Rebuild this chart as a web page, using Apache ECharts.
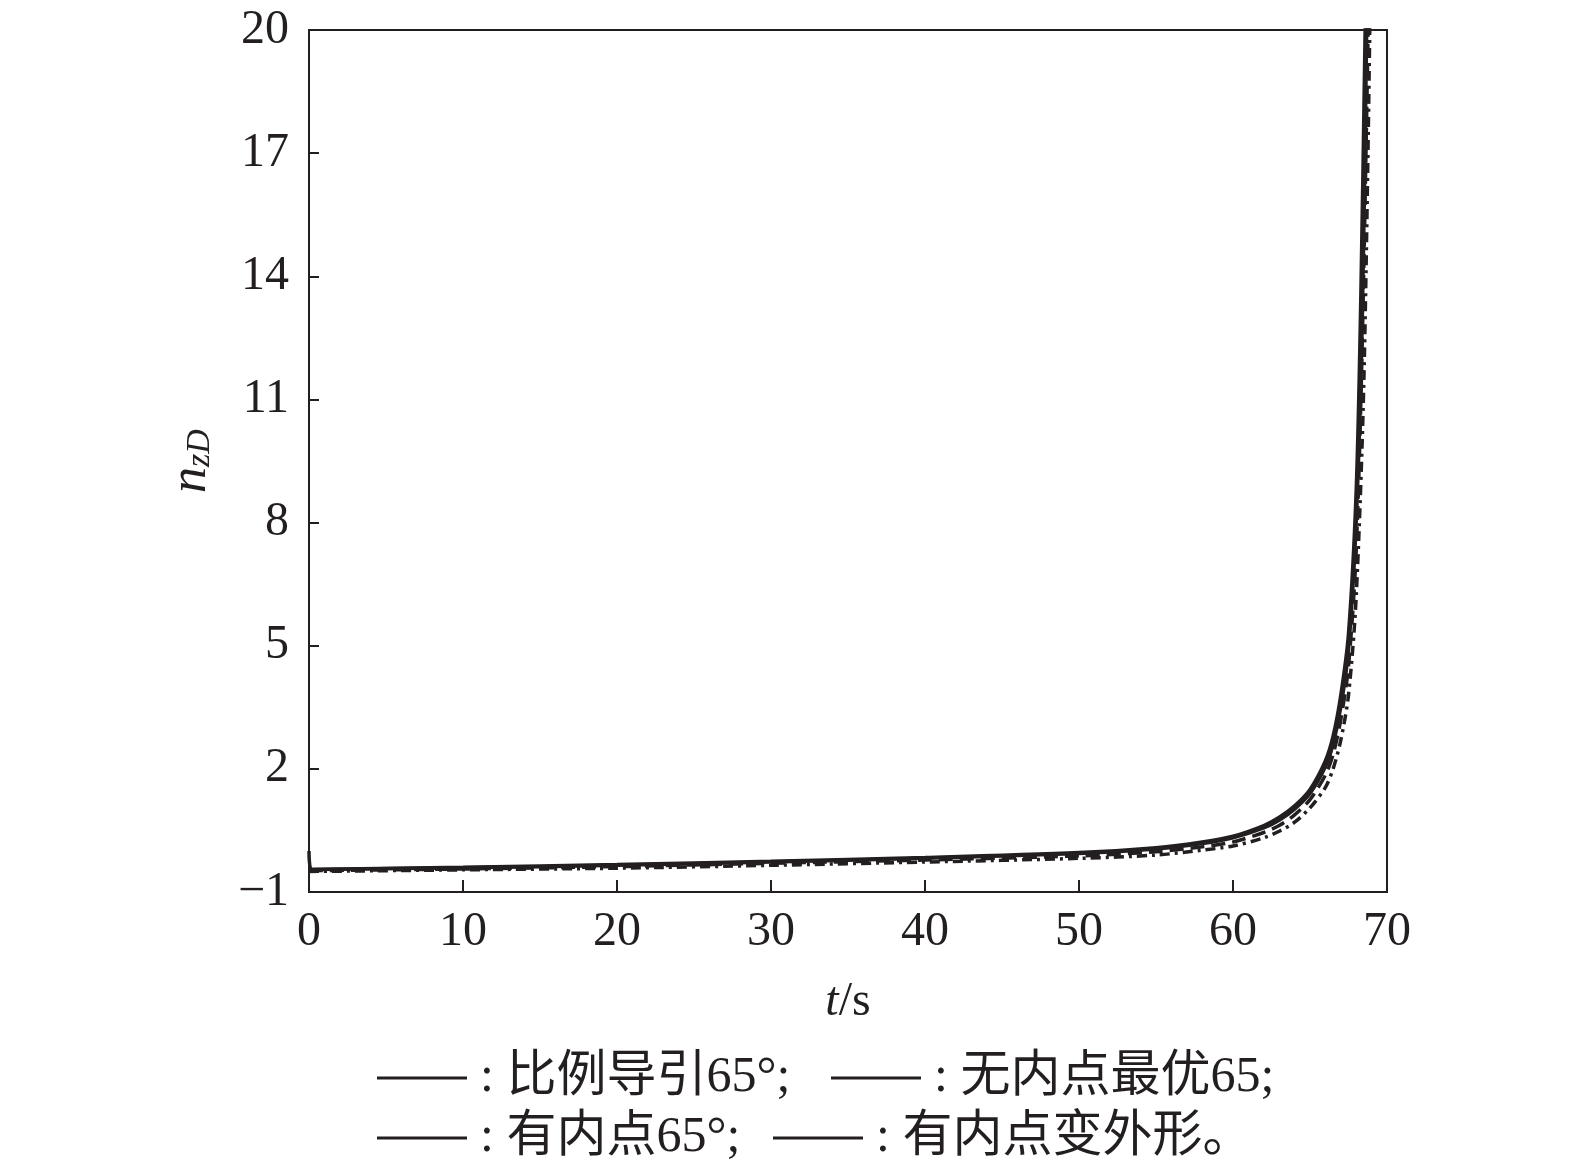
<!DOCTYPE html>
<html>
<head>
<meta charset="utf-8">
<script src="https://cdn.jsdelivr.net/npm/echarts@6/dist/echarts.min.js"></script>
<style>
  html, body { margin: 0; padding: 0; background: #fff; overflow: hidden; }
  #main { width: 1575px; height: 1169px; }
</style>
</head>
<body>
<div id="main"></div>
<script type="text/javascript">
    // 数据：t/s 与 nzD
    var seriesNames = ['比例导引65°', '无内点最优65', '有内点65°', '有内点变外形'];
    var legendSuffix = [';', ';', ';', '。'];
    var xTicks = [0, 10, 20, 30, 40, 50, 60, 70];
    var yTicks = [-1, 2, 5, 8, 11, 14, 17, 20];

    var tA = [0, 10, 20, 30, 40, 50, 55, 58, 60, 62, 63, 64, 65, 66, 66.5, 67, 67.5, 68, 68.3, 68.6];
    var vA = [-0.45, -0.40, -0.33, -0.25, -0.16, -0.04, 0.08, 0.22, 0.36, 0.62, 0.82, 1.10, 1.50, 2.20, 2.80, 3.80, 5.30, 8.80, 13.5, 20.5];

    var tB = [0, 0.15, 10, 20, 30, 40, 50, 55, 58, 60, 62, 63, 64, 65, 66, 66.5, 67, 67.5, 68, 68.4, 68.7];
    var vB = [0.0, -0.45, -0.41, -0.35, -0.27, -0.18, -0.06, 0.05, 0.18, 0.32, 0.56, 0.75, 1.02, 1.40, 2.05, 2.60, 3.50, 4.90, 8.00, 13.0, 20.5];

    var tC = [0, 10, 20, 30, 40, 50, 55, 58, 60, 62, 63, 64, 65, 66, 66.5, 67, 67.5, 68, 68.4, 68.8];
    var vC = [-0.48, -0.44, -0.38, -0.30, -0.22, -0.12, -0.02, 0.10, 0.22, 0.45, 0.62, 0.88, 1.25, 1.85, 2.35, 3.20, 4.50, 7.30, 12.5, 20.5];

    var tD = [0, 10, 20, 30, 40, 50, 55, 58, 60, 62, 63, 64, 65, 66, 66.5, 67, 67.5, 68, 68.5, 68.9];
    var vD = [-0.50, -0.46, -0.42, -0.35, -0.27, -0.18, -0.10, 0.02, 0.12, 0.32, 0.48, 0.70, 1.05, 1.55, 2.00, 2.70, 3.80, 6.20, 11.5, 20.5];

    function pairs(t, v) {
        var out = [];
        for (var i = 0; i < t.length; i++) out.push([t[i], v[i]]);
        return out;
    }

    var fontFam = '"Liberation Serif", "Times New Roman", "Noto Sans CJK SC", serif';
    var ink = '#231f20';
    var lineTypes = ['solid', 'solid', [14, 7], [10, 5, 3, 5]];
    var lineData = [pairs(tA, vA), pairs(tB, vB), pairs(tC, vC), pairs(tD, vD)];

    var legendPos = [
        {left: 372, top: 1048},
        {left: 826, top: 1048},
        {left: 372, top: 1108},
        {left: 768, top: 1108}
    ];

    var legends = seriesNames.map(function (name, i) {
        return {
            data: [name],
            left: legendPos[i].left,
            top: legendPos[i].top,
            icon: 'rect',
            itemWidth: 90,
            itemHeight: 3,
            itemGap: 0,
            selectedMode: false,
            itemStyle: {color: ink},
            textStyle: {fontSize: 50, color: ink, fontFamily: fontFam, padding: [0, 0, 0, 8]},
            formatter: function (n) {
                return ': ' + n + legendSuffix[seriesNames.indexOf(n)];
            }
        };
    });

    var myChart = echarts.init(document.getElementById('main'));
    var option = {
        backgroundColor: '#fff',
        animation: false,
        legend: legends,
        grid: {
            left: 309,
            top: 30,
            width: 1078,
            height: 862,
            outerBoundsMode: 'none',
            containLabel: false,
            show: true,
            borderColor: ink,
            borderWidth: 2,
            backgroundColor: 'transparent'
        },
        xAxis: {
            type: 'value',
            min: 0,
            max: 70,
            interval: 10,
            name: '{i|t}{n|/s}',
            nameLocation: 'middle',
            nameGap: 86,
            nameTextStyle: {
                rich: {
                    i: {fontSize: 48, fontStyle: 'italic', fontFamily: fontFam, color: ink},
                    n: {fontSize: 48, fontFamily: fontFam, color: ink}
                }
            },
            axisLine: {show: true, onZero: false, lineStyle: {color: ink, width: 2}},
            axisTick: {show: true, inside: true, length: 12, lineStyle: {color: ink, width: 2}},
            splitLine: {show: false},
            axisLabel: {
                fontSize: 48,
                color: ink,
                fontFamily: fontFam,
                margin: 16,
                formatter: function (v) { return xTicks.indexOf(v) >= 0 ? String(v) : ''; }
            }
        },
        yAxis: {
            type: 'value',
            min: -1,
            max: 20,
            interval: 3,
            name: '{i|n}{s|zD}',
            nameLocation: 'middle',
            nameGap: 92,
            nameRotate: 90,
            nameTextStyle: {
                rich: {
                    i: {fontSize: 52, fontStyle: 'italic', fontFamily: fontFam, color: ink},
                    s: {fontSize: 34, fontStyle: 'italic', fontFamily: fontFam, color: ink, padding: [18, 0, 0, 0]}
                }
            },
            axisLine: {show: true, onZero: false, lineStyle: {color: ink, width: 2}},
            axisTick: {show: true, inside: true, length: 10, lineStyle: {color: ink, width: 2}},
            splitLine: {show: false},
            axisLabel: {
                fontSize: 48,
                color: ink,
                fontFamily: fontFam,
                margin: 20,
                formatter: function (v) {
                    if (yTicks.indexOf(v) < 0) return '';
                    return v < 0 ? '\u2212' + Math.abs(v) : String(v);
                }
            }
        },
        series: seriesNames.map(function (name, i) {
            return {
                name: name,
                type: 'line',
                data: lineData[i],
                smooth: 0.3,
                symbol: 'none',
                clip: true,
                itemStyle: {color: ink},
                lineStyle: {color: ink, width: 3.5, type: lineTypes[i]}
            };
        })
    };
    myChart.setOption(option);
</script>
</body>
</html>
